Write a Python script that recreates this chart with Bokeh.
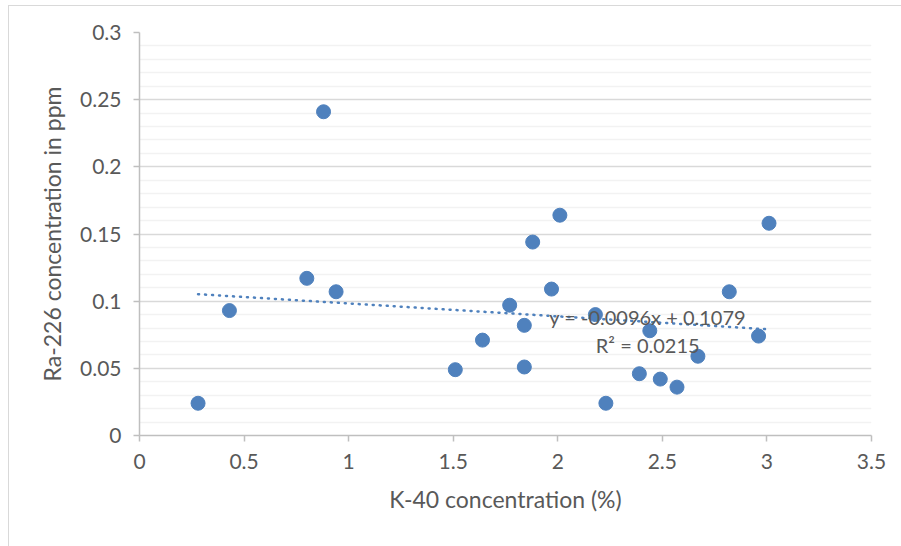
from bokeh.plotting import figure
from bokeh.models import Range1d, FixedTicker, Label
from bokeh.embed import file_html
from bokeh.resources import INLINE
import numpy as np

# K-40 concentration (%)
k40 = [0.28, 0.43, 0.80, 0.88, 0.94, 1.51, 1.64, 1.77, 1.84, 1.84, 1.88, 1.97,
       2.01, 2.18, 2.23, 2.39, 2.44, 2.49, 2.57, 2.67, 2.82, 2.96, 3.01]
# Ra-226 concentration in ppm
ra226 = [0.024, 0.093, 0.117, 0.241, 0.107, 0.049, 0.071, 0.097, 0.082, 0.051, 0.144, 0.109,
         0.164, 0.090, 0.024, 0.046, 0.078, 0.042, 0.036, 0.059, 0.107, 0.074, 0.158]

# linear trendline as reported in the chart
trend_slope = -0.0096
trend_intercept = 0.1079
trend_r2 = 0.0215

x_ticks = [0, 0.5, 1, 1.5, 2, 2.5, 3, 3.5]
x_tick_labels = ["0", "0.5", "1", "1.5", "2", "2.5", "3", "3.5"]
y_ticks = [0, 0.05, 0.1, 0.15, 0.2, 0.25, 0.3]
y_tick_labels = ["0", "0.05", "0.1", "0.15", "0.2", "0.25", "0.3"]

FONT = "Lato"
TXT = "#595959"
BLUE = "#4F81BD"

p = figure(width=893, height=541, output_backend="svg", toolbar_location=None,
           x_range=Range1d(0, 3.5), y_range=Range1d(0, 0.3),
           min_border_left=130, min_border_right=31, min_border_top=26, min_border_bottom=112)
p.styles = {"border-top": "1px solid #d9d9d9", "border-left": "1px solid #d9d9d9",
            "box-sizing": "border-box", "margin-left": "8px", "margin-top": "5px"}
p.outline_line_color = None
p.background_fill_color = "white"
p.border_fill_color = "white"

y_minor = [round(v, 3) for v in np.arange(0.0, 0.3001, 0.01) if round(v * 100) % 5 != 0]
p.yaxis.ticker = FixedTicker(ticks=y_ticks, minor_ticks=y_minor)
p.yaxis.major_label_overrides = {t: l for t, l in zip(y_ticks, y_tick_labels)}
p.xaxis.ticker = FixedTicker(ticks=x_ticks)
p.xaxis.major_label_overrides = {t: l for t, l in zip(x_ticks, x_tick_labels)}

for ax in (p.xaxis, p.yaxis):
    ax.axis_line_color = "#bfbfbf"
    ax.axis_line_width = 1.5
    ax.major_tick_line_color = "#bfbfbf"
    ax.major_tick_line_width = 1.5
    ax.major_tick_out = 6
    ax.major_tick_in = 0
    ax.minor_tick_out = 0
    ax.minor_tick_in = 0
    ax.major_label_text_font = FONT
    ax.major_label_text_font_size = "21px"
    ax.major_label_text_color = TXT
    ax.axis_label_text_font = FONT
    ax.axis_label_text_font_size = "23px"
    ax.axis_label_text_color = TXT
    ax.axis_label_text_font_style = "normal"

p.xaxis.axis_label = "K-40 concentration (%)"
p.yaxis.axis_label = "Ra-226 concentration in ppm"
p.yaxis.major_label_standoff = 12
p.xaxis.major_label_standoff = 12
p.yaxis.axis_label_standoff = 11
p.xaxis.axis_label_standoff = 13

p.xgrid.grid_line_color = None
p.ygrid.grid_line_color = "#d9d9d9"
p.ygrid.grid_line_width = 1.5
p.ygrid.minor_grid_line_color = "#f2f2f2"
p.ygrid.minor_grid_line_width = 1.5

p.scatter(k40, ra226, size=14, color=BLUE, line_color=BLUE)

tx = [min(k40), max(k40)]
ty = [trend_slope * v + trend_intercept for v in tx]
p.line(tx, ty, line_color=BLUE, line_width=2.5, line_dash="1 6", line_cap="round")

p.add_layout(Label(x=2.43, y=0.0884, text=f"y = {trend_slope}x + {trend_intercept}",
                   text_align="center", text_baseline="middle", text_font=FONT,
                   text_font_size="20px", text_color=TXT))
p.add_layout(Label(x=2.43, y=0.0675, text=f"R² = {trend_r2}",
                   text_align="center", text_baseline="middle", text_font=FONT,
                   text_font_size="20px", text_color=TXT))

open("out.html", "w").write(file_html(p, INLINE))
